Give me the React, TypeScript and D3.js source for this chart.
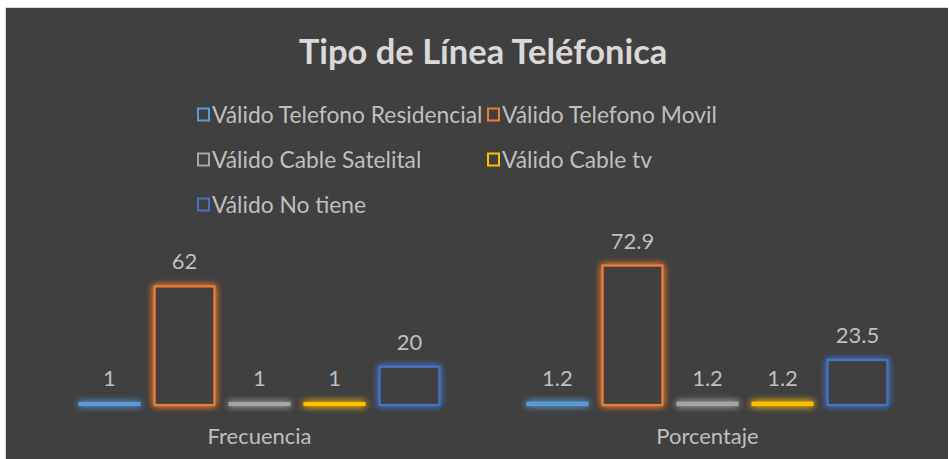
import React from "react";
import * as d3 from "d3";

const categories = ["Frecuencia", "Porcentaje"];
const seriesNames = [
  "Válido Telefono Residencial",
  "Válido Telefono Movil",
  "Válido Cable Satelital",
  "Válido Cable tv",
  "Válido No tiene",
];
const seriesColors = ["#5b9bd5", "#ed7d31", "#a5a5a5", "#ffc000", "#4472c4"];
const frecuencia = [1, 62, 1, 1, 20];
const porcentaje = [1.2, 72.9, 1.2, 1.2, 23.5];
const valueLabels = [
  ["1", "62", "1", "1", "20"],
  ["1.2", "72.9", "1.2", "1.2", "23.5"],
];
const title = "Tipo de Línea Teléfonica";

const W = 949;
const H = 459;
const FONT = "Lato, 'Open Sans', sans-serif";

export default function App() {
  const values = [frecuencia, porcentaje];
  const x0 = d3.scaleBand<string>().domain(categories).range([35.5, 931.5]);
  const x1 = d3
    .scaleBand<string>()
    .domain(seriesNames)
    .range([0, x0.bandwidth()])
    .paddingInner(13 / 75)
    .paddingOuter(0.573);
  const y = d3.scaleLinear().domain([0, 80]).range([405, 252]);

  const legendRows = [
    [0, 1],
    [2, 3],
    [4],
  ];
  const legendX = [197, 487];
  const legendY = [115, 160, 205];

  return (
    <svg
      width={W}
      height={H}
      style={{ position: "absolute", left: 0, top: 0 }}
      fontFamily={FONT}
    >
      <defs>
        {seriesColors.map((c, i) => (
          <filter
            key={i}
            id={`glow${i}`}
            filterUnits="userSpaceOnUse"
            x={0}
            y={0}
            width={W}
            height={H}
          >
            <feGaussianBlur in="SourceAlpha" stdDeviation="3.5" result="b" />
            <feFlood floodColor={c} floodOpacity="0.8" />
            <feComposite in2="b" operator="in" result="g" />
            <feMerge>
              <feMergeNode in="g" />
              <feMergeNode in="g" />
              <feMergeNode in="SourceGraphic" />
            </feMerge>
          </filter>
        ))}
      </defs>
      <rect x={0} y={0} width={W} height={H} fill="#ffffff" />
      <rect x={5.5} y={7.5} width={942} height={460} fill="none" stroke="#d9d9d9" />
      <rect x={6} y={8} width={942} height={H} fill="#404040" />

      <text
        x={483}
        y={64}
        textAnchor="middle"
        fontSize={34.5}
        fontWeight="bold"
        fill="#d9d9d9"
      >
        {title}
      </text>

      {legendRows.map((row, ri) =>
        row.map((si, ci) => (
          <g key={si} transform={`translate(${legendX[ci]},${legendY[ri]})`}>
            <rect
              x={1}
              y={-6.5}
              width={11}
              height={12}
              fill="none"
              stroke={seriesColors[si]}
              strokeWidth={2}
            />
            <text x={15} y={8} fontSize={22.8} fill="#bfbfbf">
              {seriesNames[si]}
            </text>
          </g>
        ))
      )}

      {categories.map((cat, ci) => (
        <g key={cat} transform={`translate(${x0(cat)},0)`}>
          {seriesNames.map((s, si) => {
            const v = values[ci][si];
            const bx = x1(s)!;
            const bw = x1.bandwidth();
            const top = y(v);
            return (
              <g key={s}>
                <rect
                  x={bx + 1.1}
                  y={top}
                  width={bw - 2.2}
                  height={Math.max(y(0) - top, 0.5)}
                  fill="#404040"
                  stroke={seriesColors[si]}
                  strokeWidth={2.25}
                  filter={`url(#glow${si})`}
                />
                <text
                  x={bx + bw / 2}
                  y={top - 17}
                  textAnchor="middle"
                  fontSize={22}
                  fill="#bfbfbf"
                >
                  {valueLabels[ci][si]}
                </text>
              </g>
            );
          })}
          <text
            x={x0.bandwidth() / 2}
            y={444}
            textAnchor="middle"
            fontSize={22}
            fill="#bfbfbf"
          >
            {cat}
          </text>
        </g>
      ))}
    </svg>
  );
}
